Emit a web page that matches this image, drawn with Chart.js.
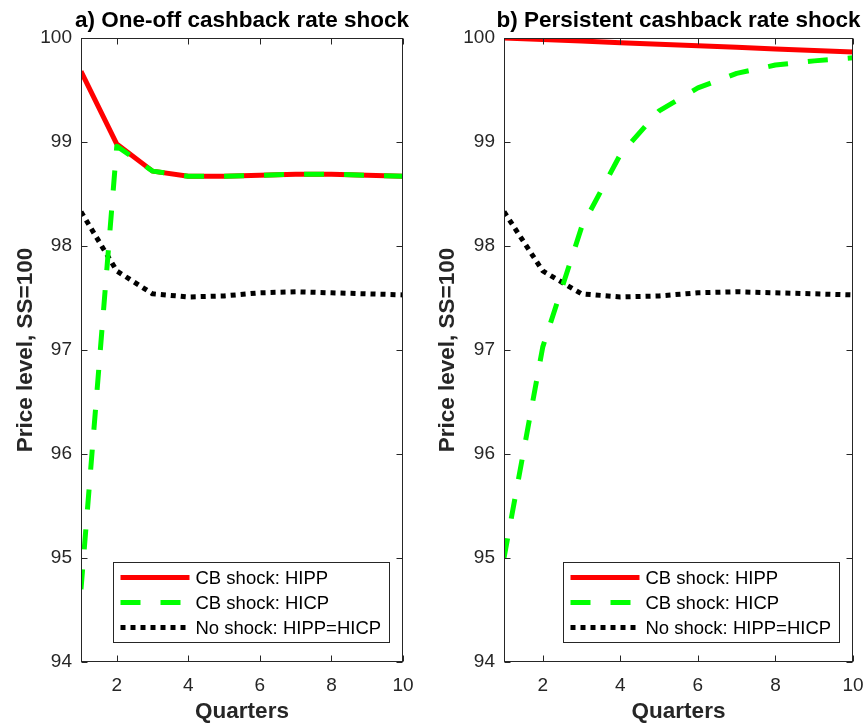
<!DOCTYPE html>
<html>
<head>
<meta charset="utf-8">
<script src="https://cdn.jsdelivr.net/npm/chart.js@4.4.1/dist/chart.umd.min.js"></script>
<style>
  html, body { margin: 0; padding: 0; background: #fff; overflow: hidden; }
  #wrap { position: relative; width: 865px; height: 727px; }
  #chartA { position: absolute; left: 0; top: 0; }
  #chartB { position: absolute; left: 420px; top: 0; }
</style>
</head>
<body>
<div id="wrap">
  <canvas id="chartA" width="420" height="727"></canvas>
  <canvas id="chartB" width="445" height="727"></canvas>
</div>
<script>
// data
const quarters = [1, 2, 3, 4, 5, 6, 7, 8, 9, 10];
const xTicks = [2, 4, 6, 8, 10];
const yTicks = [94, 95, 96, 97, 98, 99, 100];

const seriesNames = ['CB shock: HIPP', 'CB shock: HICP', 'No shock: HIPP=HICP'];

// a) one-off shock
const hippOneOff = [99.68, 98.98, 98.72, 98.67, 98.67, 98.68, 98.69, 98.69, 98.68, 98.67];
const hicpOneOff = [94.70, 98.96, 98.72, 98.67, 98.67, 98.68, 98.69, 98.69, 98.68, 98.67];
// b) persistent shock
const hippPersistent = [100.00, 99.985, 99.97, 99.955, 99.94, 99.925, 99.91, 99.895, 99.88, 99.865];
const hicpPersistent = [95.00, 97.03, 98.18, 98.88, 99.30, 99.52, 99.66, 99.74, 99.78, 99.81];
// no shock, same in both panels
const noShock = [98.33, 97.76, 97.54, 97.51, 97.52, 97.55, 97.56, 97.55, 97.54, 97.53];

const titles = ['a) One-off cashback rate shock', 'b) Persistent cashback rate shock'];

Chart.defaults.font.family = "'Liberation Sans', Arial, Helvetica, sans-serif";
Chart.defaults.color = '#262626';

const axisColor = '#262626';

function pts(vals) {
    return quarters.map((q, i) => ({ x: q, y: vals[i] }));
}

// box round the axes with inward ticks, like matlab
const boxPlugin = {
    id: 'boxAxes',
    afterDatasetsDraw(chart) {
        const ctx = chart.ctx;
        const a = chart.chartArea;
        const xs = chart.scales.x, ys = chart.scales.y;
        const L = Math.round(a.left) + 0.5, R = Math.round(a.right) - 0.5;
        const T = Math.round(a.top) + 0.5, B = Math.round(a.bottom) - 0.5;
        ctx.save();
        ctx.setLineDash([]);
        ctx.strokeStyle = axisColor;
        ctx.lineWidth = 1;
        ctx.strokeRect(L, T, R - L, B - T);
        const tl = 6;
        ctx.beginPath();
        xTicks.forEach(v => {
            const px = Math.round(xs.getPixelForValue(v)) + 0.5;
            ctx.moveTo(px, B); ctx.lineTo(px, B - tl);
            ctx.moveTo(px, T); ctx.lineTo(px, T + tl);
        });
        yTicks.forEach(v => {
            const py = Math.round(ys.getPixelForValue(v)) + 0.5;
            ctx.moveTo(L, py); ctx.lineTo(L + tl, py);
            ctx.moveTo(R, py); ctx.lineTo(R - tl, py);
        });
        ctx.stroke();
        ctx.restore();
    }
};

// panel title centred over the plot box (allowed to run wider than it)
const titlePlugin = {
    id: 'panelTitle',
    afterDraw(chart, args, opts) {
        const ctx = chart.ctx;
        const a = chart.chartArea;
        ctx.save();
        ctx.font = "bold 22.5px 'Liberation Sans', Arial, sans-serif";
        ctx.fillStyle = '#000';
        ctx.textAlign = 'center';
        ctx.textBaseline = 'middle';
        ctx.fillText(opts.text, (a.left + a.right) / 2, 21);
        ctx.restore();
    }
};

// legend box inside the plot, lower right
const legendPlugin = {
    id: 'innerLegend',
    afterDraw(chart) {
        const ctx = chart.ctx;
        const a = chart.chartArea;
        const w = 276, h = 80;
        const left = Math.round(a.right - 14 - w) + 0.5;
        const top = Math.round(a.bottom - 20 - h) + 0.5;
        ctx.save();
        ctx.fillStyle = '#fff';
        ctx.fillRect(left, top, w, h);
        ctx.strokeStyle = axisColor;
        ctx.lineWidth = 1;
        ctx.setLineDash([]);
        ctx.strokeRect(left, top, w, h);
        ctx.font = "18.5px 'Liberation Sans', Arial, sans-serif";
        ctx.textBaseline = 'middle';
        ctx.fillStyle = '#000';
        chart.data.datasets.forEach((ds, i) => {
            const y = top + 15 + i * 25;
            ctx.beginPath();
            ctx.strokeStyle = ds.borderColor;
            ctx.lineWidth = ds.borderWidth;
            ctx.setLineDash(ds.borderDash || []);
            ctx.lineCap = 'butt';
            ctx.moveTo(left + 7, y);
            ctx.lineTo(left + 76, y);
            ctx.stroke();
            ctx.setLineDash([]);
            ctx.fillText(ds.label, left + 82, y + 1);
        });
        ctx.restore();
    }
};

function makePanel(id, title, hipp, hicp, yAxisWidth, yTitlePad, rightPad) {
    return new Chart(document.getElementById(id), {
        type: 'line',
        data: {
            datasets: [
                {
                    label: seriesNames[0],
                    data: pts(hipp),
                    borderColor: '#ff0000',
                    borderWidth: 5,
                    order: 2
                },
                {
                    label: seriesNames[1],
                    data: pts(hicp),
                    borderColor: '#00ff00',
                    borderWidth: 5,
                    borderDash: [20, 20],
                    order: 1
                },
                {
                    label: seriesNames[2],
                    data: pts(noShock),
                    borderColor: '#000000',
                    borderWidth: 5,
                    borderDash: [5, 5],
                    order: 3
                }
            ]
        },
        options: {
            responsive: false,
            animation: false,
            events: [],
            elements: {
                point: { radius: 0 },
                line: { tension: 0, borderCapStyle: 'butt', borderJoinStyle: 'round' }
            },
            layout: { padding: { left: 0, right: rightPad, top: 38, bottom: 0 } },
            plugins: {
                legend: { display: false },
                tooltip: { enabled: false },
                title: { display: false },
                panelTitle: { text: title }
            },
            scales: {
                x: {
                    type: 'linear',
                    min: 1,
                    max: 10,
                    grid: { display: false, drawTicks: false },
                    border: { display: false },
                    afterBuildTicks: s => { s.ticks = xTicks.map(v => ({ value: v })); },
                    afterFit: s => { s.height = 65; s.paddingLeft = 0; s.paddingRight = 0; },
                    ticks: {
                        font: { size: 19 },
                        color: axisColor,
                        padding: 12,
                        maxRotation: 0
                    },
                    title: {
                        display: true,
                        text: 'Quarters',
                        color: '#262626',
                        font: { size: 22.5, weight: 'bold' },
                        padding: 2
                    }
                },
                y: {
                    min: 94,
                    max: 100,
                    grid: { display: false, drawTicks: false },
                    border: { display: false },
                    afterBuildTicks: s => { s.ticks = yTicks.map(v => ({ value: v })); },
                    afterFit: s => { s.width = yAxisWidth; s.paddingTop = 0; s.paddingBottom = 0; },
                    ticks: {
                        font: { size: 19 },
                        color: axisColor,
                        padding: 9
                    },
                    title: {
                        display: true,
                        text: 'Price level, SS=100',
                        color: '#262626',
                        font: { size: 22.5, weight: 'bold' },
                        padding: yTitlePad
                    }
                }
            }
        },
        plugins: [boxPlugin, titlePlugin, legendPlugin]
    });
}

makePanel('chartA', titles[0], hippOneOff, hicpOneOff, 81, 12, 17);
makePanel('chartB', titles[1], hippPersistent, hicpPersistent, 84, 14, 12);
</script>
</body>
</html>
